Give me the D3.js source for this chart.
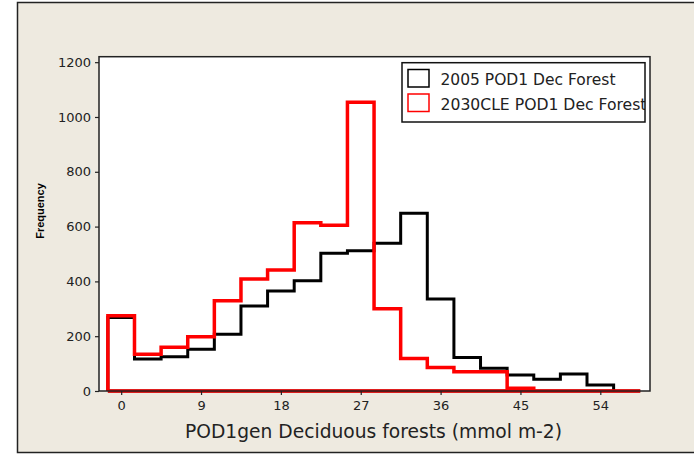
<!DOCTYPE html>
<html>
<head>
<meta charset="utf-8">
<script src="https://cdn.jsdelivr.net/npm/d3@7"></script>
<style>
  html, body { margin: 0; padding: 0; background: #ffffff; }
  svg { display: block; }
  .tick text { font-family: "DejaVu Sans", sans-serif; font-size: 13px; fill: #222; }
  .tick line { stroke: #222; stroke-width: 1.2; }
</style>
</head>
<body>
<script>
// ---- data ----
const binEdges = d3.range(-1.5, 58.6, 3);          // 21 edges, bin width 3
const series2005 = [268, 117, 125, 152, 207, 310, 365, 402, 503, 512, 539, 649, 336, 122, 83, 58, 43, 62, 22, 0];
const series2030 = [275, 134, 160, 198, 329, 409, 442, 614, 605, 1054, 300, 119, 86, 70, 70, 10, 0, 0, 0, 0];
const xTicks = [0, 9, 18, 27, 36, 45, 54];
const yTicks = [0, 200, 400, 600, 800, 1000, 1200];
const seriesNames = ["2005 POD1 Dec Forest", "2030CLE POD1 Dec Forest"];
const seriesColors = ["#000000", "#ff0000"];
const xTitle = "POD1gen Deciduous forests (mmol m-2)";
const yTitle = "Frequency";

const W = 694, H = 456;
const plot = { left: 99, top: 56.7, right: 650, bottom: 391 };
const FONT = '"DejaVu Sans", sans-serif';

const svg = d3.select("body").append("svg").attr("width", W).attr("height", H);

// outer beige frame
svg.append("rect").attr("x", 17.5).attr("y", 2.5).attr("width", 720).attr("height", 450)
  .attr("fill", "#eeeae0").attr("stroke", "#222").attr("stroke-width", 1.5);

const x = d3.scaleLinear().domain([-2.5, 59.6]).range([plot.left, plot.right]);
const y = d3.scaleLinear().domain([0, 1220]).range([plot.bottom, plot.top]);

// plot area
svg.append("rect").attr("x", plot.left).attr("y", plot.top)
  .attr("width", plot.right - plot.left).attr("height", plot.bottom - plot.top)
  .attr("fill", "#ffffff");

// histogram outlines
function outline(vals) {
  const pts = [[binEdges[0], 0]];
  vals.forEach((v, i) => { pts.push([binEdges[i], v]); pts.push([binEdges[i + 1], v]); });
  pts.push([binEdges[vals.length], 0]);
  pts.push([binEdges[0], 0]);
  return pts;
}
const line = d3.line().x(d => x(d[0])).y(d => y(d[1]));
[series2005, series2030].forEach((vals, k) => {
  svg.append("path").attr("d", line(outline(vals)))
    .attr("fill", "none").attr("stroke", seriesColors[k])
    .attr("stroke-width", k === 0 ? 3 : 3.5).attr("stroke-linejoin", "miter");
});

// plot border
svg.append("rect").attr("x", plot.left).attr("y", plot.top)
  .attr("width", plot.right - plot.left).attr("height", plot.bottom - plot.top)
  .attr("fill", "none").attr("stroke", "#222").attr("stroke-width", 1.5);

// axes
const gx = svg.append("g").attr("transform", `translate(0,${plot.bottom})`)
  .call(d3.axisBottom(x).tickValues(xTicks).tickFormat(d3.format("d")).tickSize(4).tickPadding(6));
gx.select(".domain").remove();
const gy = svg.append("g").attr("transform", `translate(${plot.left},0)`)
  .call(d3.axisLeft(y).tickValues(yTicks).tickFormat(d3.format("d")).tickSize(4).tickPadding(4));
gy.select(".domain").remove();

// axis titles
svg.append("text").attr("x", 185).attr("y", 437.5)
  .attr("textLength", 377).attr("lengthAdjust", "spacingAndGlyphs")
  .style("font-family", FONT).style("font-size", "19px").attr("fill", "#222")
  .text(xTitle);
svg.append("text").attr("transform", "translate(43.5,211) rotate(-90)").attr("text-anchor", "middle")
  .style("font-family", '"Liberation Sans", Arial, sans-serif').style("font-weight", "bold")
  .style("font-size", "11px").attr("fill", "#000").text(yTitle);

// legend
const leg = { x: 402, y: 62.7, w: 243, h: 59.3 };
svg.append("clipPath").attr("id", "legclip").append("rect")
  .attr("x", leg.x).attr("y", leg.y).attr("width", leg.w).attr("height", leg.h);
const lg = svg.append("g");
lg.append("rect").attr("x", leg.x).attr("y", leg.y).attr("width", leg.w).attr("height", leg.h)
  .attr("fill", "#fff");
const legLen = [175, 206];
seriesNames.forEach((name, i) => {
  lg.append("rect").attr("x", 408).attr("y", 69.5 + i * 24.5).attr("width", 21).attr("height", 17.5)
    .attr("fill", "none").attr("stroke", seriesColors[i]).attr("stroke-width", 1.5);
  lg.append("text").attr("x", 440.5).attr("y", 85 + i * 24.8)
    .attr("clip-path", "url(#legclip)")
    .attr("textLength", legLen[i]).attr("lengthAdjust", "spacingAndGlyphs")
    .style("font-family", FONT).style("font-size", "15px").attr("fill", "#222")
    .text(name);
});
lg.append("rect").attr("x", leg.x).attr("y", leg.y).attr("width", leg.w).attr("height", leg.h)
  .attr("fill", "none").attr("stroke", "#111").attr("stroke-width", 1.5);
</script>
</body>
</html>
